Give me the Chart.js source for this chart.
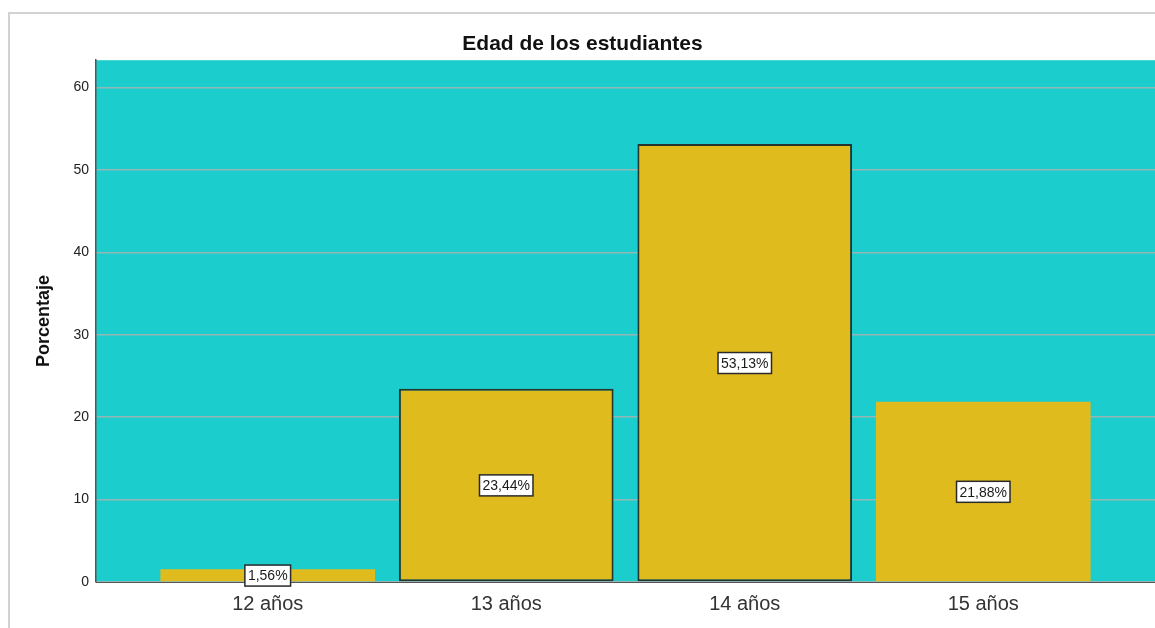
<!DOCTYPE html>
<html>
<head>
<meta charset="utf-8">
<script src="https://cdn.jsdelivr.net/npm/chart.js@4"></script>
<style>
  body { margin: 0; background: #fff; overflow: hidden; }
  #frame { position: absolute; left: 8px; top: 12px; width: 1160px; height: 640px;
           border-top: 2px solid #d2d2d2; border-left: 2px solid #d2d2d2; }
  #chart { position: absolute; left: 10px; top: 15px; }
</style>
</head>
<body>
<div id="frame"></div>
<canvas id="chart" width="1145" height="613"></canvas>
<script>
const categories = ['12 años', '13 años', '14 años', '15 años'];
const percentages = [1.56, 23.44, 53.13, 21.88];
const valueLabels = ['1,56%', '23,44%', '53,13%', '21,88%'];
const yTicks = [0, 10, 20, 30, 40, 50, 60];

const chartEl = document.getElementById('chart');

const plotBackground = {
  id: 'plotBackground',
  beforeDraw(chart) {
    const {ctx, chartArea} = chart;
    ctx.save();
    ctx.fillStyle = '#1ccdcd';
    ctx.fillRect(chartArea.left, chartArea.top, chartArea.right - chartArea.left, chartArea.bottom - chartArea.top);
    ctx.restore();
  }
};

const boxLabels = {
  id: 'boxLabels',
  afterDatasetsDraw(chart) {
    const ctx = chart.ctx;
    const yScale = chart.scales.y;
    const meta = chart.getDatasetMeta(0);
    ctx.save();
    ctx.font = '14px "Liberation Sans", Arial, sans-serif';
    ctx.textAlign = 'center';
    ctx.textBaseline = 'middle';
    meta.data.forEach((bar, i) => {
      const text = valueLabels[i];
      const cx = bar.x;
      const cy = yScale.getPixelForValue(percentages[i] / 2);
      const w = ctx.measureText(text).width + 6;
      const h = 21;
      ctx.fillStyle = '#ffffff';
      ctx.fillRect(cx - w / 2, cy - h / 2, w, h);
      ctx.lineWidth = 1.5;
      ctx.strokeStyle = '#2a2a2a';
      ctx.strokeRect(cx - w / 2, cy - h / 2, w, h);
      ctx.fillStyle = '#1a1a1a';
      ctx.fillText(text, cx, cy + 1);
    });
    ctx.restore();
  }
};

new Chart(chartEl, {
  type: 'bar',
  data: {
    datasets: [{
      data: percentages.map((v, i) => ({x: i, y: v})),
      backgroundColor: '#dfbb1e',
      borderColor: '#26362e',
      borderWidth: [0, 2, 2, 0],
      borderSkipped: false,
      barPercentage: 0.9,
      categoryPercentage: 1.0
    }]
  },
  options: {
    responsive: false,
    animation: false,
    devicePixelRatio: 1,
    layout: { padding: 0 },
    plugins: {
      legend: { display: false },
      tooltip: { enabled: false },
      title: {
        display: true,
        text: 'Edad de los estudiantes',
        color: '#111',
        font: { family: '"Liberation Sans", Arial, sans-serif', size: 21, weight: 'bold' },
        padding: { top: 17, bottom: 3 }
      }
    },
    scales: {
      x: {
        type: 'linear',
        offset: false,
        min: -0.72,
        max: 3.72,
        grid: { display: false, drawTicks: false },
        border: { display: true, color: '#555', width: 1 },
        afterBuildTicks(scale) {
          scale.ticks = categories.map((c, i) => ({value: i}));
        },
        afterFit(scale) { scale.height = 46; },
        ticks: {
          autoSkip: false,
          maxRotation: 0,
          padding: 10,
          color: '#333',
          font: { family: '"Liberation Sans", Arial, sans-serif', size: 20 },
          callback: (v) => categories[v]
        }
      },
      y: {
        min: 0,
        max: 63.3,
        grid: { color: '#93b7b5', lineWidth: 1.5, drawTicks: false },
        border: { display: true, color: '#555', width: 1.5 },
        afterBuildTicks(scale) {
          scale.ticks = yTicks.map(v => ({value: v}));
        },
        afterFit(scale) { scale.width = 86; },
        ticks: {
          padding: 7,
          color: '#222',
          font: { family: '"Liberation Sans", Arial, sans-serif', size: 14 }
        },
        title: {
          display: true,
          text: 'Porcentaje',
          color: '#111',
          font: { family: '"Liberation Sans", Arial, sans-serif', size: 18, weight: 'bold' },
          padding: { top: 23, bottom: 0 }
        }
      }
    }
  },
  plugins: [plotBackground, boxLabels]
});
</script>
</body>
</html>
